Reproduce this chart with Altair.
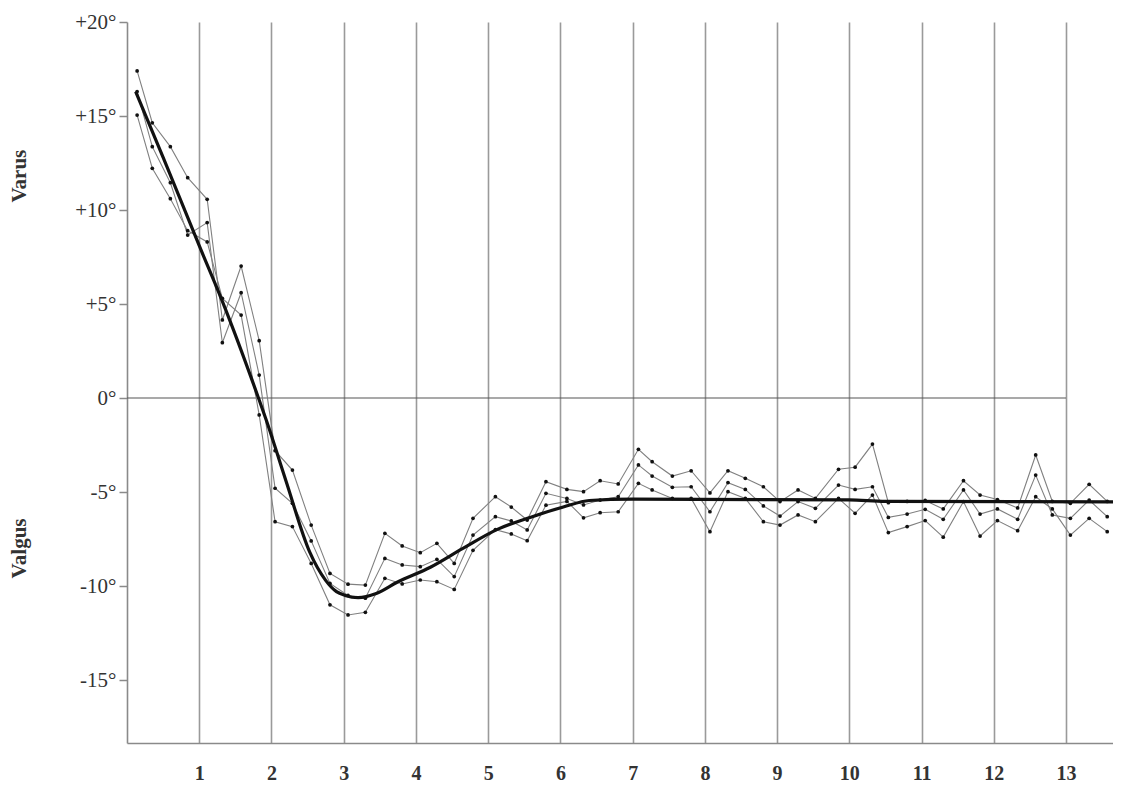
import altair as alt
import pandas as pd

# x positions of the measured points (time units on the x axis)
xs = [0.14, 0.35, 0.60, 0.84, 1.11, 1.32, 1.58, 1.83, 2.05, 2.29, 2.55, 2.81, 3.06, 3.30,
      3.57, 3.81, 4.06, 4.29, 4.53, 4.79, 5.10, 5.32, 5.54, 5.80, 6.09, 6.32, 6.55, 6.80,
      7.08, 7.27, 7.55, 7.81, 8.07, 8.32, 8.56, 8.81, 9.04, 9.29, 9.53, 9.85, 10.08, 10.32,
      10.54, 10.80, 11.05, 11.30, 11.58, 11.81, 12.05, 12.33, 12.58, 12.81, 13.06, 13.32, 13.57]

series_a = [17.4, 14.64, 13.37, 11.72, 10.57, 4.15, 7.02, 3.05, -2.8, -3.83, -6.76, -9.33, -9.9, -9.95,
            -7.2, -7.87, -8.23, -7.73, -8.8, -6.4, -5.25, -5.8, -6.49, -4.45, -4.86, -4.98, -4.40, -4.57,
            -2.73, -3.39, -4.15, -3.87, -5.05, -3.87, -4.27, -4.72, -5.51, -4.89, -5.34, -3.79, -3.68, -2.45,
            -5.57, -5.5, -5.45, -5.9, -4.4, -5.16, -5.4, -5.85, -3.03, -5.5, -5.6, -4.59, -5.5]

series_b = [16.3, 13.37, 11.45, 8.67, 9.33, 2.94, 5.6, 1.22, -4.8, -5.6, -7.6, -9.86, -10.5, -10.65,
            -8.53, -8.88, -8.97, -8.58, -9.5, -7.29, -6.31, -6.54, -7.02, -5.07, -5.34, -5.69, -5.43, -5.25,
            -3.56, -4.15, -4.75, -4.72, -6.05, -4.50, -4.86, -5.74, -6.28, -5.51, -5.87, -4.63, -4.86, -4.72,
            -6.35, -6.17, -5.92, -6.45, -4.89, -6.17, -5.9, -6.45, -4.10, -6.22, -6.4, -5.43, -6.31]

series_c = [15.05, 12.22, 10.6, 8.9, 8.3, 5.3, 4.41, -0.9, -6.58, -6.84, -8.8, -11.0, -11.54, -11.4,
            -9.59, -9.89, -9.68, -9.77, -10.18, -8.1, -7.0, -7.23, -7.59, -5.7, -5.5, -6.37, -6.10, -6.05,
            -4.54, -4.89, -5.34, -5.34, -7.11, -4.98, -5.34, -6.58, -6.76, -6.22, -6.58, -5.34, -6.13, -5.16,
            -7.16, -6.84, -6.52, -7.4, -5.51, -7.34, -6.52, -7.06, -5.25, -5.9, -7.29, -6.4, -7.11]

# mean curve (thick line)
mean_x = [0.12, 0.5, 1.0, 1.33, 1.82, 1.93, 2.2, 2.53, 2.75, 2.9, 3.02, 3.2, 3.45, 3.74, 4.2, 4.65,
          5.12, 5.58, 6.04, 6.4, 7.0, 10.0, 10.5, 13.7]
mean_y = [16.3, 12.8, 8.1, 5.05, 0.0, -1.2, -4.4, -8.2, -9.7, -10.3, -10.5, -10.62, -10.4, -9.8, -9.0, -8.0,
          -7.0, -6.35, -5.8, -5.45, -5.38, -5.42, -5.5, -5.52]

x_ticks = list(range(1, 14))
y_ticks = [20, 15, 10, 5, 0, -5, -10, -15]
side_labels = ["Varus", "Valgus"]
side_label_pos = [11.8, -8.0]

rows = []
for name, vals in (("A", series_a), ("B", series_b), ("C", series_c)):
    for x, y in zip(xs, vals):
        rows.append({"series": name, "x": x, "y": y})
thin = pd.DataFrame(rows)
mean_df = pd.DataFrame({"x": mean_x, "y": mean_y})
zero_df = pd.DataFrame({"x": [0], "x2": [13], "y": [0]})
side_df = pd.DataFrame({"label": side_labels, "y": side_label_pos})

xscale = alt.Scale(domain=[0, 13.65], nice=False, zero=False)
yscale = alt.Scale(domain=[-18.35, 20], nice=False, zero=False)

x_axis = alt.Axis(values=x_ticks, grid=True, gridColor="#9a9a9a", gridWidth=1.6,
                  ticks=False, domainColor="#8a8a8a", domainWidth=1.6,
                  labelFont="Liberation Serif", labelFontSize=20, labelFontWeight="bold",
                  labelColor="#333333", labelPadding=20, title=None)
y_axis = alt.Axis(values=y_ticks, grid=False, ticks=True, tickSize=8, tickColor="#8a8a8a",
                  tickWidth=1.5, domainColor="#8a8a8a", domainWidth=1.6,
                  labelFont="Liberation Serif", labelFontSize=21, labelColor="#333333",
                  labelPadding=3,
                  labelExpr="datum.value > 0 ? '+' + datum.value + '°' : datum.value + '°'",
                  title=None)

base_x = alt.X("x:Q", scale=xscale, axis=x_axis)
base_y = alt.Y("y:Q", scale=yscale, axis=y_axis)

zero_rule = alt.Chart(zero_df).mark_rule(color="#555555", strokeWidth=1.2).encode(
    x=alt.X("x:Q", scale=xscale, axis=x_axis), x2="x2:Q", y=base_y)

thin_lines = alt.Chart(thin).mark_line(color="#808080", strokeWidth=1.1).encode(
    x=base_x, y=base_y, detail="series:N")
thin_pts = alt.Chart(thin).mark_circle(color="#111111", size=14, opacity=1).encode(
    x=base_x, y=base_y)

mean_line = alt.Chart(mean_df).mark_line(color="#111111", strokeWidth=3.2,
                                          interpolate="monotone").encode(x=base_x, y=base_y)

side = alt.Chart(side_df).mark_text(font="Liberation Serif", fontSize=21, fontWeight="bold",
                                    angle=270, color="#333333", align="center",
                                    baseline="middle").encode(
    x=alt.value(-107), y=alt.Y("y:Q", scale=yscale, axis=y_axis), text="label:N")

chart = alt.layer(zero_rule, thin_lines, thin_pts, mean_line, side).properties(
    width=986, height=721,
    autosize=alt.AutoSizeParams(type="none"),
    padding={"left": 119, "top": 14, "right": 0, "bottom": 40},
    background="white",
).configure_view(stroke=None)

chart.save("out.html", embed_options={"renderer": "svg", "actions": False})
